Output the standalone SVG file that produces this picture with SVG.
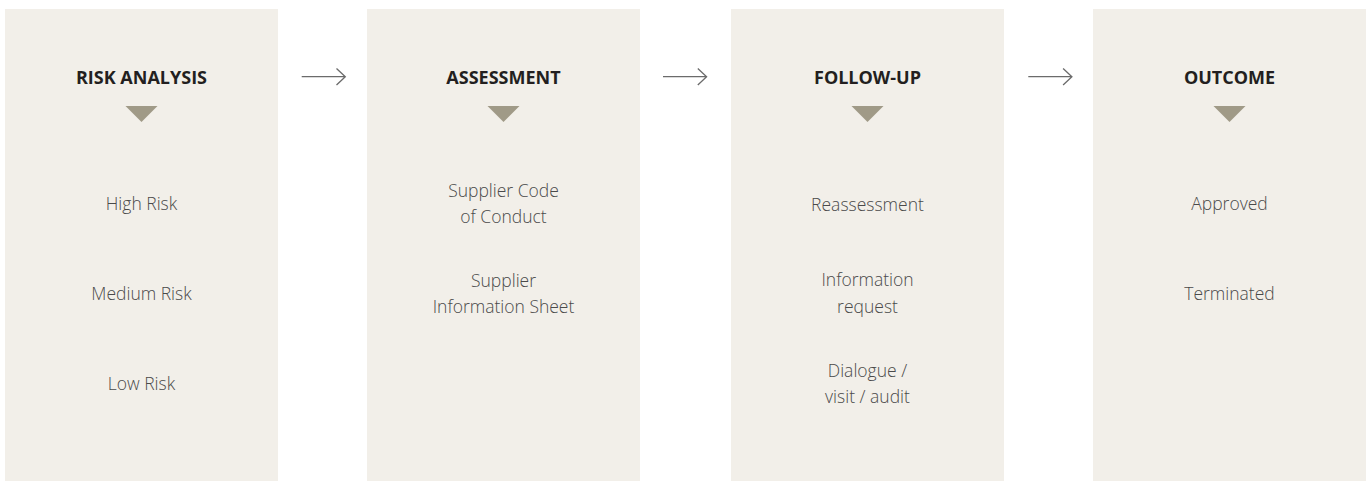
<svg xmlns="http://www.w3.org/2000/svg" width="1370" height="481" viewBox="0 0 1370 481">
<defs>
<style>
.panel{fill:#f2efe9}
.head{font-family:"Open Sans","Liberation Sans",sans-serif;font-weight:700;font-size:18px;fill:#231f20;text-anchor:middle}
.body{font-family:"Open Sans","Liberation Sans",sans-serif;font-weight:300;font-size:17.5px;fill:#4a4a4a;text-anchor:middle}
.tri{fill:#a09a87}
.conn{stroke:#6b6b6b;stroke-width:1.3;fill:none}
</style>
</defs>
<rect width="1370" height="481" fill="#ffffff"/>
<g id="risk-analysis">
<rect class="panel" x="5" y="9" width="273" height="472"/>
<text class="head" x="141.5" y="84">RISK ANALYSIS</text>
<polygon class="tri" points="125.5,106 157.5,106 141.5,122"/>
<text class="body" x="141.5" y="210">High Risk</text>
<text class="body" x="141.5" y="300">Medium Risk</text>
<text class="body" x="141.5" y="390">Low Risk</text>
</g>
<g id="assessment">
<rect class="panel" x="367" y="9" width="273" height="472"/>
<text class="head" x="503.5" y="84">ASSESSMENT</text>
<polygon class="tri" points="487.5,106 519.5,106 503.5,122"/>
<text class="body" x="503.5" y="197.3">Supplier Code</text>
<text class="body" x="503.5" y="223.3">of Conduct</text>
<text class="body" x="503.5" y="286.7">Supplier</text>
<text class="body" x="503.5" y="312.7">Information Sheet</text>
</g>
<g id="follow-up">
<rect class="panel" x="731" y="9" width="273" height="472"/>
<text class="head" x="867.5" y="84">FOLLOW-UP</text>
<polygon class="tri" points="851.5,106 883.5,106 867.5,122"/>
<text class="body" x="867.5" y="210.5">Reassessment</text>
<text class="body" x="867.5" y="286">Information</text>
<text class="body" x="867.5" y="312.5">request</text>
<text class="body" x="867.5" y="376.7">Dialogue /</text>
<text class="body" x="867.5" y="403">visit / audit</text>
</g>
<g id="outcome">
<rect class="panel" x="1093" y="9" width="273" height="472"/>
<text class="head" x="1229.5" y="84">OUTCOME</text>
<polygon class="tri" points="1213.5,106 1245.5,106 1229.5,122"/>
<text class="body" x="1229.5" y="210">Approved</text>
<text class="body" x="1229.5" y="300">Terminated</text>
</g>
<g id="connectors">
<path class="conn" d="M301.7,76.7H345.3M336.5,68.5L345.3,76.7L336.5,85"/>
<path class="conn" d="M663,76.7H706.6M697.8,68.5L706.6,76.7L697.8,85"/>
<path class="conn" d="M1028.3,76.7H1071.9M1063.1,68.5L1071.9,76.7L1063.1,85"/>
</g>
</svg>
